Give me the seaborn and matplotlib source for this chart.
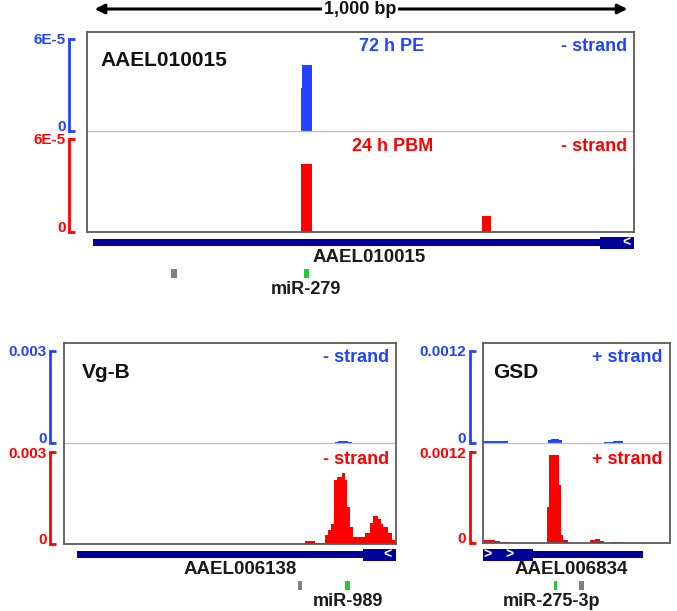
import matplotlib
matplotlib.use("Agg")
import matplotlib.pyplot as plt
import seaborn as sns

# tamanho em pixels da figura
W, H = 677, 611

AZUL = "#2244ff"
VERMELHO = "#ff0000"
MARINHO = "#000099"
VERDE = "#22cc33"
CINZA = "#808080"

# ---------------- dados (posicoes em bp, cobertura normalizada) ----------------
# AAEL010015 (janela de 1000 bp)
top_xlim = (0, 1000)
top_max = 6e-5
top_max_label = "6E-5"
top_pe_edges = [391, 393, 411]
top_pe_vals = [2.8e-5, 4.3e-5]
top_pbm_edges = [391, 411, 722, 739]
top_pbm_vals = [4.39e-5, 0, 1.03e-5]
top_gene_thin = (11, 938)
top_gene_thick = (938, 1000)
top_chevrons = [987]
top_chevron_dir = "<"
top_mir_gray = (154, 165)
top_mir_green = (397, 405)

# Vg-B / AAEL006138
vgb_xlim = (0, 600)
vgb_max = 0.003
vgb_max_label = "0.003"
vgb_pe_edges = [490, 495, 513, 520]
vgb_pe_vals = [3e-5, 6.5e-5, 3e-5]
vgb_pbm_edges = [435, 454, 472, 477, 482, 488, 493, 502, 508, 511, 517,
                 522, 526, 544, 553, 558, 567, 573, 576, 585, 593, 600]
vgb_pbm_vals = [1.1e-4, 4e-5, 2.9e-4, 4.5e-4, 6.5e-4, 2.08e-3, 2.2e-3,
                2.32e-3, 2.1e-3, 1.2e-3, 5.6e-4, 2.2e-4, 2.4e-4, 3.5e-4,
                6.7e-4, 9.1e-4, 8.3e-4, 6.5e-4, 5.4e-4, 3.5e-4, 1.3e-4]
vgb_gene_thin = (23, 540)
vgb_gene_thick = (540, 600)
vgb_chevrons = [584]
vgb_chevron_dir = "<"
vgb_mir_gray = (422, 431)
vgb_mir_green = (508, 517)

# GSD / AAEL006834
gsd_xlim = (0, 340)
gsd_max = 0.0012
gsd_max_label = "0.0012"
gsd_pe_edges = [0, 45, 118, 124, 138, 144, 220, 236, 254]
gsd_pe_vals = [2.2e-5, 0, 4e-5, 5.2e-5, 3.5e-5, 0, 1.3e-5, 2.6e-5]
gsd_pbm_edges = [2, 22, 31, 45, 116, 120, 138, 142, 145, 155,
                 194, 204, 213, 220, 236, 254]
gsd_pbm_vals = [4e-5, 3e-5, 1.3e-5, 0, 4.7e-4, 1.16e-3, 7.7e-4, 1.1e-4,
                4e-5, 0, 4e-5, 5e-5, 2e-5, 0, 1.3e-5]
gsd_gene_thin = (91, 291)
gsd_gene_thick = (0, 91)
gsd_chevrons = [8, 48]
gsd_chevron_dir = ">"
gsd_mir_green = (129, 135)
gsd_mir_gray = (175, 183)

sns.set_style("white")
plt.rcParams["font.family"] = ["Liberation Sans", "DejaVu Sans"]
plt.rcParams["font.weight"] = "bold"

fig = plt.figure(figsize=(W / 100, H / 100), dpi=100)


def eixo(x0, x1, y0, y1):
    return fig.add_axes([x0 / W, 1 - y1 / H, (x1 - x0) / W, (y1 - y0) / H])


def texto(px, py, s, **kw):
    fig.text(px / W, 1 - py / H, s, fontweight="bold", **kw)


def trilha(ax, edges, vals, cor, vmax, rotulo, xlim, frac, off):
    centros = [(a + b) / 2 for a, b in zip(edges[:-1], edges[1:])]
    sns.histplot(x=centros, weights=vals, bins=edges, element="step",
                 fill=True, color=cor, alpha=1, linewidth=0, ax=ax)
    ax.set_xlim(*xlim)
    ax.set_ylim(0, vmax * frac)
    ax.set_xlabel("")
    ax.set_ylabel("")
    ax.set_xticks([])
    for s in ["top", "right", "bottom"]:
        ax.spines[s].set_visible(False)
    sp = ax.spines["left"]
    sp.set_visible(True)
    sp.set_position(("outward", off))
    sp.set_bounds(0, vmax)
    sp.set_color(cor)
    sp.set_linewidth(2)
    ax.set_yticks([0, vmax])
    ax.set_yticklabels(["0", rotulo])
    ax.tick_params(axis="y", direction="in", length=4, width=2, color=cor,
                   labelcolor=cor, pad=2.5, labelsize=11, left=True)
    rot = ax.get_yticklabels()
    for t in rot:
        t.set_fontweight("bold")
    # o "0" fica apoiado na base do colchete, como no IGV
    rot[0].set_va("baseline")
    ax.patch.set_alpha(0)


def painel(box, brk, off, xlim, vmax, rotulo, pe, pbm, nome, strand,
           titulo_pe=None, titulo_pbm=None):
    x0, x1, y0, ym, y1 = box
    b_top_azul, b_top_verm = brk
    ax_pe = eixo(x0, x1, y0, ym)
    trilha(ax_pe, pe[0], pe[1], AZUL, vmax, rotulo, xlim,
           (ym - y0) / (ym - b_top_azul), off)
    ax_pbm = eixo(x0, x1, ym, y1)
    trilha(ax_pbm, pbm[0], pbm[1], VERMELHO, vmax, rotulo, xlim,
           (y1 - ym) / (y1 - b_top_verm), off)

    frame = eixo(x0, x1, y0, y1)
    frame.set_xticks([])
    frame.set_yticks([])
    frame.patch.set_alpha(0)
    for s in frame.spines.values():
        s.set_color("#5a5a5a")
        s.set_linewidth(1.3)
    frame.axhline(1 - (ym - y0) / (y1 - y0), color="#bdbdbd", lw=0.9)
    h = y1 - y0
    frame.text(0.024 if x1 - x0 > 400 else 0.055, 1 - 29 / h, nome,
               transform=frame.transAxes, fontsize=15, fontweight="bold",
               color="#111111", ha="left", va="center")
    frame.text(1 - 7 / (x1 - x0), 1 - 15 / h, strand, color=AZUL,
               transform=frame.transAxes, fontsize=13, fontweight="bold",
               ha="right", va="center")
    frame.text(1 - 7 / (x1 - x0), 1 - (ym - y0 + 16) / h, strand,
               color=VERMELHO, transform=frame.transAxes, fontsize=13,
               fontweight="bold", ha="right", va="center")
    if titulo_pe:
        frame.text(0.556, 1 - 15 / h, titulo_pe, color=AZUL,
                   transform=frame.transAxes, fontsize=13,
                   fontweight="bold", ha="center", va="center")
        frame.text(0.559, 1 - (ym - y0 + 16) / h, titulo_pbm,
                   color=VERMELHO, transform=frame.transAxes, fontsize=13,
                   fontweight="bold", ha="center", va="center")


def gene(box, xlim, yc, thin, thick, chev, cdir, mirs, ymir):
    x0, x1 = box[0], box[1]
    ax = eixo(x0, x1, yc - 12, ymir + 10)
    ax.set_xlim(*xlim)
    ax.set_ylim(ymir + 10, yc - 12)
    ax.axis("off")
    ax.barh(yc, thin[1] - thin[0], left=thin[0], height=7,
            color=MARINHO, clip_on=False, linewidth=0)
    ax.barh(yc, thick[1] - thick[0], left=thick[0], height=12,
            color=MARINHO, clip_on=False, linewidth=0)
    for c in chev:
        ax.text(c, yc + 0.5, cdir, color="white", fontsize=10,
                fontweight="bold", ha="center", va="center")
    for (a, b), cor in mirs:
        ax.barh(ymir, b - a, left=a, height=9, color=cor, clip_on=False,
                linewidth=0)


# ---- painel superior ----
top_box = (87, 634, 32, 131, 232)
painel(top_box, (39, 139), 13, top_xlim, top_max, top_max_label,
       (top_pe_edges, top_pe_vals), (top_pbm_edges, top_pbm_vals),
       "AAEL010015", "- strand", "72 h PE", "24 h PBM")
gene(top_box, top_xlim, 242.5, top_gene_thin, top_gene_thick, top_chevrons,
     top_chevron_dir, [(top_mir_gray, CINZA), (top_mir_green, VERDE)], 274)
texto(369, 258, "AAEL010015", fontsize=13.5, ha="center", va="center",
      color="#1a1a1a")
texto(306, 289, "miR-279", fontsize=13, ha="center", va="center",
      color="#1a1a1a")

# seta de escala
ax_seta = eixo(87, 634, 0, 20)
ax_seta.set_xlim(*top_xlim)
ax_seta.set_ylim(0, 1)
ax_seta.axis("off")
ax_seta.annotate("", xy=(14, 0.55), xytext=(988, 0.55),
                 arrowprops=dict(arrowstyle="<|-|>", color="black", lw=2.2,
                                 mutation_scale=14, shrinkA=0, shrinkB=0))
ax_seta.text(499, 0.55, "1,000 bp", ha="center", va="center", fontsize=13,
             fontweight="bold", color="#111111",
             bbox=dict(facecolor="white", edgecolor="none", pad=1.5))

# ---- Vg-B ----
vgb_box = (64, 396, 343, 443, 544)
painel(vgb_box, (351, 452), 10, vgb_xlim, vgb_max, vgb_max_label,
       (vgb_pe_edges, vgb_pe_vals), (vgb_pbm_edges, vgb_pbm_vals),
       "Vg-B", "- strand")
gene(vgb_box, vgb_xlim, 554.5, vgb_gene_thin, vgb_gene_thick, vgb_chevrons,
     vgb_chevron_dir, [(vgb_mir_gray, CINZA), (vgb_mir_green, VERDE)], 585.5)
texto(240, 570, "AAEL006138", fontsize=13.5, ha="center", va="center",
      color="#1a1a1a")
texto(348, 601, "miR-989", fontsize=13, ha="center", va="center",
      color="#1a1a1a")

# ---- GSD ----
gsd_box = (483, 670, 343, 443, 543)
painel(gsd_box, (351, 452), 9.5, gsd_xlim, gsd_max, gsd_max_label,
       (gsd_pe_edges, gsd_pe_vals), (gsd_pbm_edges, gsd_pbm_vals),
       "GSD", "+ strand")
gene(gsd_box, gsd_xlim, 554.5, gsd_gene_thin, gsd_gene_thick, gsd_chevrons,
     gsd_chevron_dir, [(gsd_mir_green, VERDE), (gsd_mir_gray, CINZA)], 585)
texto(571, 570, "AAEL006834", fontsize=13.5, ha="center", va="center",
      color="#1a1a1a")
texto(551, 601, "miR-275-3p", fontsize=13, ha="center", va="center",
      color="#1a1a1a")

fig.savefig("out.png", dpi=100)
